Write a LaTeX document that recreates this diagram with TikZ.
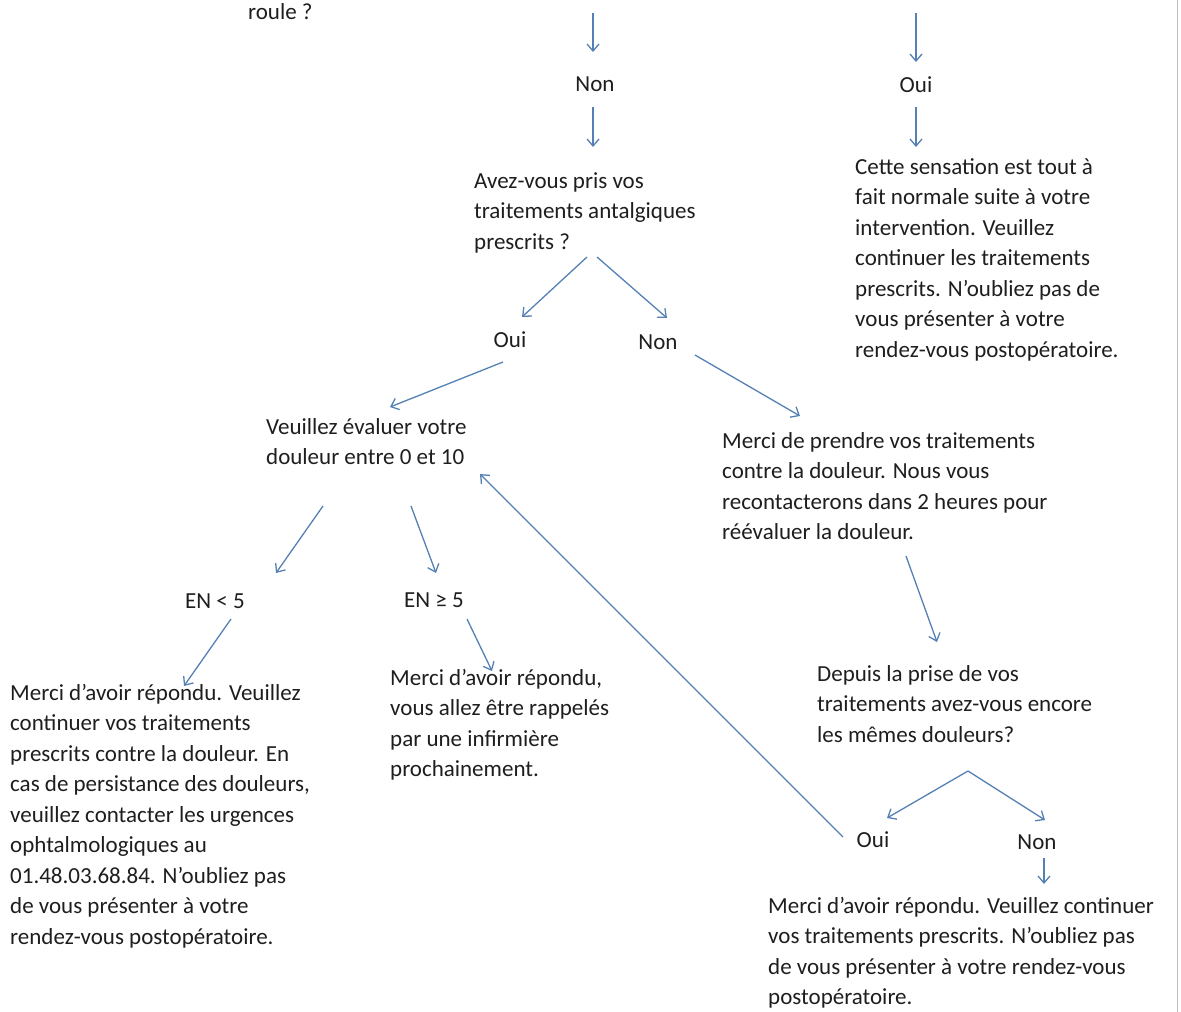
\documentclass[tikz,border=0pt]{standalone}
\usepackage{fontspec}
\setmainfont{Carlito}
\usepackage{xcolor}
\usetikzlibrary{arrows.meta}
\definecolor{arrowblue}{RGB}{84,128,180}
\definecolor{textgray}{RGB}{30,30,30}

\begin{document}
\begin{tikzpicture}[x=1pt, y=-1pt,
  txt/.style={anchor=north west, align=left, inner sep=0pt, text=textgray, font=\fontsize{23}{30.5}\selectfont},
  lbl/.style={inner sep=0pt, text=textgray, font=\fontsize{23}{30.5}\selectfont},
  arr/.style={arrowblue, line width=1.3pt, -{Straight Barb[length=7pt, width=12pt]}}]
  \useasboundingbox (0,0) rectangle (1181,1012);
  \draw[black!25, line width=1.5pt] (1177.5,0) -- (1177.5,1012);
  \node[txt] (roule) at (248,3) {roule ?};
  \node[lbl] (non1) at (595,84) {Non};
  \node[lbl] (oui1) at (916,85) {Oui};
  \node[txt] (avez) at (474,172) {Avez-vous pris vos\\traitements antalgiques\\prescrits ?};
  \node[txt] (cette) at (855,158) {Cette sensation est tout à\\fait normale suite à votre\\intervention. Veuillez\\continuer les traitements\\prescrits. N’oubliez pas de\\vous présenter à votre\\rendez-vous postopératoire.};
  \node[lbl] (oui2) at (510,340) {Oui};
  \node[lbl] (non2) at (658,342) {Non};
  \node[txt] (evaluer) at (266,418) {Veuillez évaluer votre\\douleur entre 0 et 10};
  \node[txt] (prendre) at (722,432) {Merci de prendre vos traitements\\contre la douleur. Nous vous\\recontacterons dans 2 heures pour\\réévaluer la douleur.};
  \node[lbl] (enlow) at (215,601) {EN < 5};
  \node[lbl] (enhigh) at (434,600) {EN ≥ 5};
  \node[txt] (rappel) at (390,669) {Merci d’avoir répondu,\\vous allez être rappelés\\par une infirmière\\prochainement.};
  \node[txt] (continuer) at (10,684) {Merci d’avoir répondu. Veuillez\\continuer vos traitements\\prescrits contre la douleur. En\\cas de persistance des douleurs,\\veuillez contacter les urgences\\ophtalmologiques au\\01.48.03.68.84. N’oubliez pas\\de vous présenter à votre\\rendez-vous postopératoire.};
  \node[txt] (depuis) at (817,665) {Depuis la prise de vos\\traitements avez-vous encore\\les mêmes douleurs?};
  \node[lbl] (oui3) at (873,840) {Oui};
  \node[lbl] (non3) at (1037,842) {Non};
  \node[txt] (fin) at (768,897) {Merci d’avoir répondu. Veuillez continuer\\vos traitements prescrits. N’oubliez pas\\de vous présenter à votre rendez-vous\\postopératoire.};
  \coordinate (top1) at (593,13);
  \coordinate (top2) at (916,13);
  \coordinate (split1) at (587,257);
  \coordinate (split2) at (597,257);
  \coordinate (apex) at (968,771);
  \draw[arr] (top1) -- (593,52);
  \draw[arr] (593,107) -- (593,147);
  \draw[arr] (top2) -- (916,62);
  \draw[arr] (916,107) -- (916,147);
  \draw[arr] (split1) -- (522,317);
  \draw[arr] (split2) -- (667,318);
  \draw[arr] (503,362) -- (390,407);
  \draw[arr] (695,355) -- (800,416);
  \draw[arr] (323,506) -- (276,573);
  \draw[arr] (411,506) -- (436,573);
  \draw[arr] (231,619) -- (184,686);
  \draw[arr] (467,619) -- (492,671);
  \draw[arr] (906,556) -- (937,642);
  \draw[arr] (apex) -- (887,818);
  \draw[arr] (apex) -- (1045,820);
  \draw[arr] (843,837) -- (480,474);
  \draw[arr] (1044,858) -- (1044,884);
\end{tikzpicture}
\end{document}
